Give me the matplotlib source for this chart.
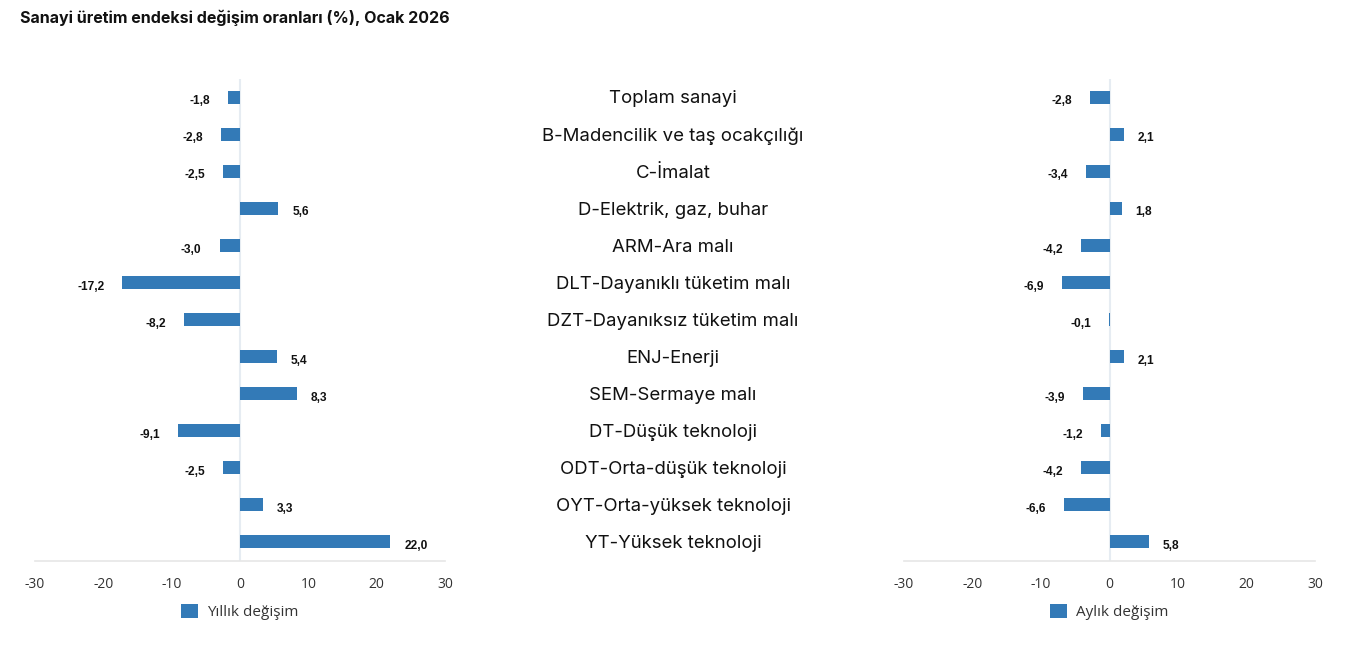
import numpy as np
import matplotlib
matplotlib.use('Agg')
import matplotlib.pyplot as plt
import matplotlib.transforms as mtransforms

plt.rcParams['axes.unicode_minus'] = False

#########  data  ################
categories = ['Toplam sanayi', 'B-Madencilik ve taş ocakçılığı', 'C-İmalat',
              'D-Elektrik, gaz, buhar', 'ARM-Ara malı', 'DLT-Dayanıklı tüketim malı',
              'DZT-Dayanıksız tüketim malı', 'ENJ-Enerji', 'SEM-Sermaye malı',
              'DT-Düşük teknoloji', 'ODT-Orta-düşük teknoloji',
              'OYT-Orta-yüksek teknoloji', 'YT-Yüksek teknoloji']
annual = [-1.8, -2.8, -2.5, 5.6, -3.0, -17.2, -8.2, 5.4, 8.3, -9.1, -2.5, 3.3, 22.0]
monthly = [-2.8, 2.1, -3.4, 1.8, -4.2, -6.9, -0.1, 2.1, -3.9, -1.2, -4.2, -6.6, 5.8]
xticks = [-30, -20, -10, 0, 10, 20, 30]

barColor = '#337ab7'
W, H = 1349, 651

fig = plt.figure(figsize=(W/100, H/100), dpi=100)
ax1 = fig.add_axes([35/W, 90.5/H, 410/W, 482/H])
ax2 = fig.add_axes([904/W, 90.5/H, 411/W, 482/H])

ypos = np.arange(len(categories))


def fmt(v):
    return ('%.1f' % v).replace('.', ',')


def draw_panel(ax, vals, legendLabel):
    ax.barh(ypos, vals, height=0.35, color=barColor, label=legendLabel, zorder=3)
    ax.set_xlim(-30, 30)
    ax.set_ylim(len(categories) - 0.5, -0.5)
    ax.axvline(0, color='#e6ecf2', linewidth=1.5, zorder=1)
    for s in ['left', 'right', 'top']:
        ax.spines[s].set_visible(False)
    ax.spines['bottom'].set_color('#e6e6e6')
    ax.spines['bottom'].set_linewidth(1.2)
    ax.set_yticks([])
    ax.set_xticks(xticks)
    ax.tick_params(axis='x', length=0, pad=12, labelsize=10, labelcolor='#333333')
    for lab in ax.get_xticklabels():
        lab.set_fontfamily('Open Sans')
    for y, v in zip(ypos, vals):
        off = 10 if v >= 0 else -13
        ax.annotate(fmt(v), (v, y), xytext=(off, -3), textcoords='offset points',
                    ha='left' if v >= 0 else 'right', va='center',
                    fontsize=8.6, fontweight='bold', family='Liberation Sans', color='#111111')
    leg = ax.legend(loc='center', bbox_to_anchor=(0.5, -0.107), frameon=False,
                    handlelength=1.1, handleheight=1.1, handletextpad=0.6,
                    prop={'family': 'Open Sans', 'size': 11})
    for t in leg.get_texts():
        t.set_color('#333333')


draw_panel(ax1, annual, 'Yıllık değişim')
draw_panel(ax2, monthly, 'Aylık değişim')

# category names in the middle
trans = mtransforms.blended_transform_factory(fig.transFigure, ax1.transData)
for y, c in zip(ypos, categories):
    fig.text(673/W, y + 0.05, c, transform=trans, ha='center', va='center',
             fontsize=13.4, family='Inter', color='#111111')

fig.text(20/W, 1 - 18/H, 'Sanayi üretim endeksi değişim oranları (%), Ocak 2026',
         ha='left', va='center', fontsize=11.5, fontweight='bold', family='Inter',
         color='#111111')

fig.savefig('out.png', dpi=100)
